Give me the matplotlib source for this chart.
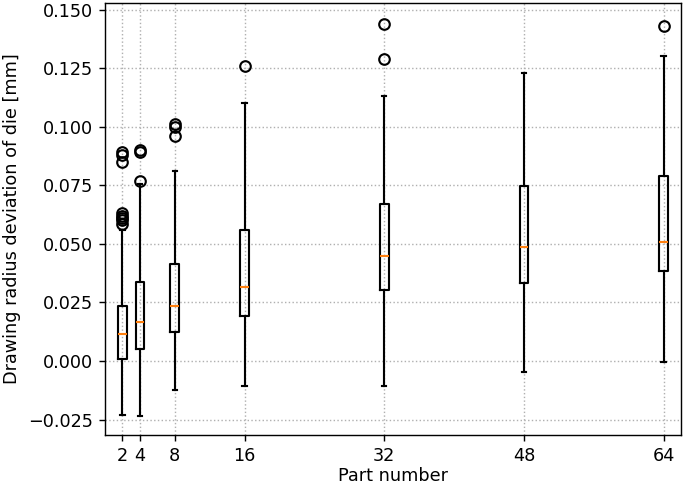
import numpy as np
import matplotlib
matplotlib.use("Agg")
import matplotlib.pyplot as plt

#Box statistics
parts = [2, 4, 8, 16, 32, 48, 64]
q1 = [0.001, 0.0051, 0.0125, 0.0194, 0.0305, 0.0333, 0.0386]
med = [0.0115, 0.0165, 0.0235, 0.0315, 0.0447, 0.0487, 0.0507]
q3 = [0.0236, 0.0336, 0.0416, 0.0557, 0.0668, 0.0746, 0.0788]
whislo = [-0.0229, -0.0237, -0.0126, -0.0107, -0.0107, -0.0047, -0.0006]
whishi = [0.0557, 0.0755, 0.081, 0.110, 0.113, 0.123, 0.130]
fliers = [
    [0.0585, 0.060, 0.061, 0.062, 0.063, 0.085, 0.088, 0.089],
    [0.077, 0.089, 0.090],
    [0.096, 0.100, 0.101],
    [0.126],
    [0.129, 0.144],
    [],
    [0.143],
]

stats = []
for i in range(len(parts)):
    stats.append({"q1": q1[i], "med": med[i], "q3": q3[i],
                  "whislo": whislo[i], "whishi": whishi[i],
                  "fliers": fliers[i], "label": str(parts[i])})

#Plot boxes
dpi = 127
fig = plt.figure(figsize=(685 / dpi, 488 / dpi), dpi=dpi)
ax = fig.add_axes([105 / 685, 53 / 488, 576 / 685, 432 / 488])
lw = 1.2
ax.bxp(stats, positions=parts, widths=1,
       boxprops=dict(linewidth=lw), whiskerprops=dict(linewidth=lw),
       capprops=dict(linewidth=lw), medianprops=dict(linewidth=lw),
       flierprops=dict(markeredgewidth=lw))
ax.set_xlim(0, 66)
ax.set_ylim(-0.0316, 0.1528)
ax.set_xticks(parts)
ax.set_xticklabels([str(p) for p in parts])
ax.set_xlabel("Part number", labelpad=1)
ax.set_ylabel("Drawing radius deviation of die [mm]")
ax.grid(linestyle=":")
fig.savefig("out.png", dpi=dpi)
